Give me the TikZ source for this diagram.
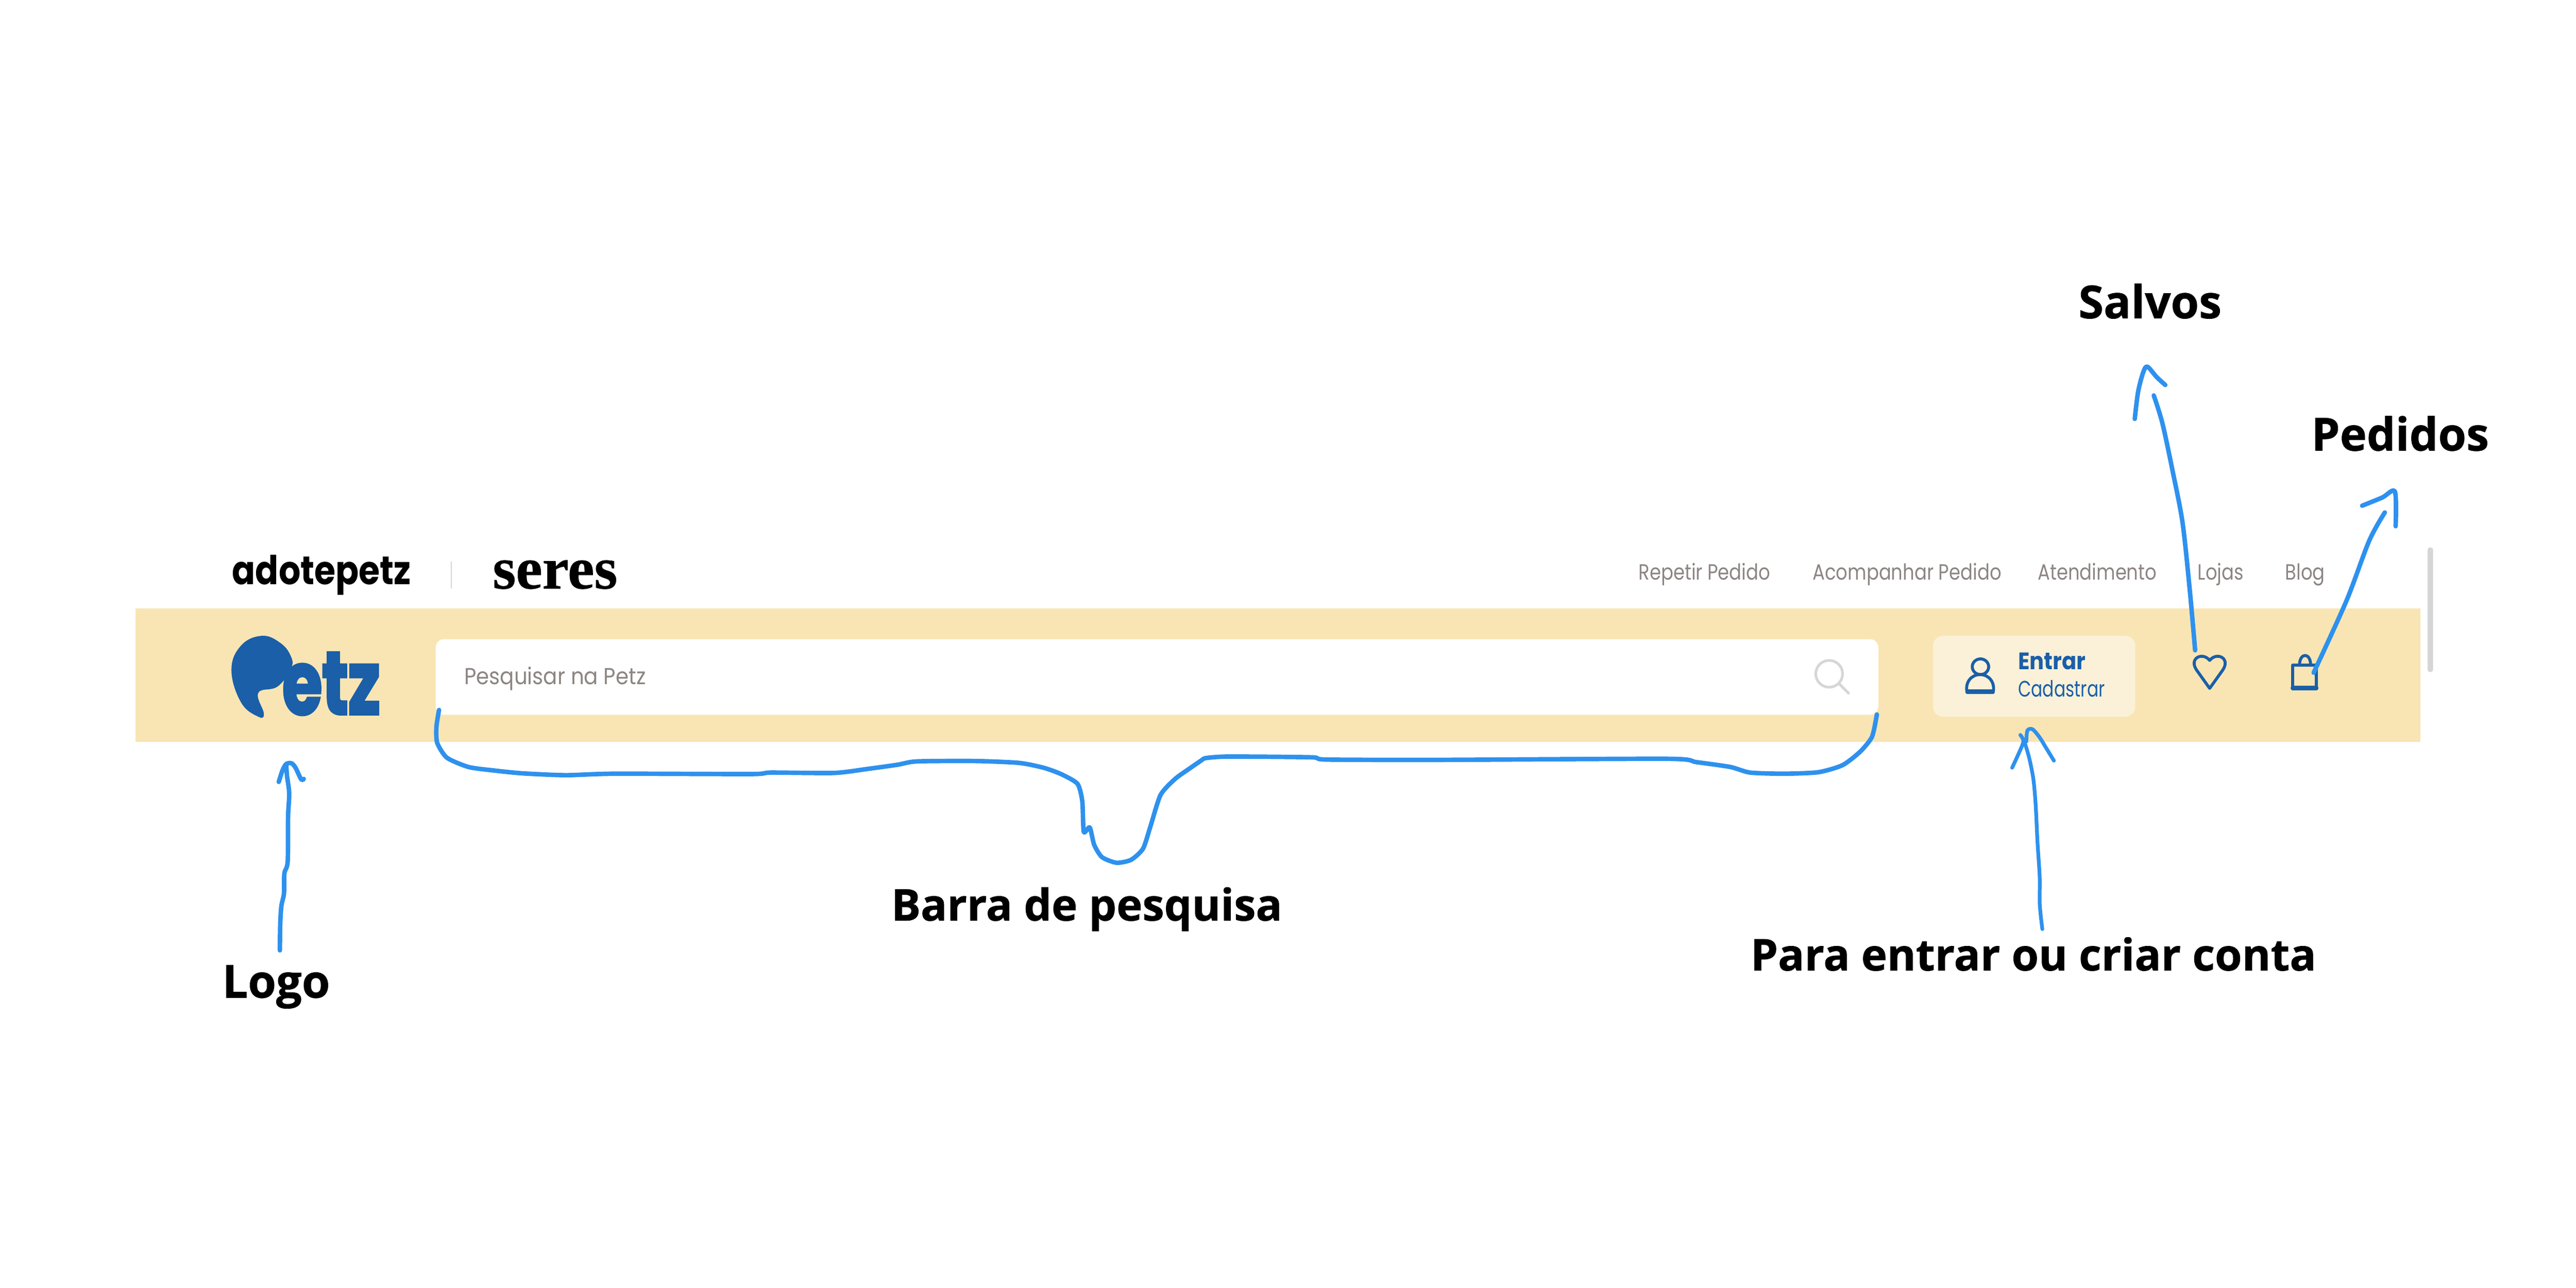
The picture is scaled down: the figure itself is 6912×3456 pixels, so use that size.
\documentclass[tikz,border=0pt]{standalone}
\usepackage{fontspec}
\setmainfont{Open Sans}
\newfontfamily\calloutfont[FakeBold=0.8]{Open Sans Bold}
\newfontfamily\headerfont[FakeStretch=0.9]{Poppins}
\newfontfamily\linkfont[FakeStretch=0.83]{Poppins}
\newfontfamily\signupfont[FakeStretch=0.76]{Poppins}
\newfontfamily\brandfont[FakeStretch=0.86]{Poppins Bold}
\newfontfamily\seresfont[FakeBold=0.6]{Liberation Serif Bold}
\newfontfamily\petzfont[FakeBold=2.5,FakeStretch=0.72]{Poppins Bold}
\definecolor{bandcream}{HTML}{F9E5B3}
\definecolor{logincream}{HTML}{FBF1D8}
\definecolor{petzblue}{HTML}{1A5FA8}
\definecolor{penblue}{HTML}{2E91EE}
\definecolor{linkgrey}{HTML}{8C8583}
\definecolor{softgrey}{HTML}{D6D6D6}
\tikzset{
  callout/.style={
    anchor=base, inner sep=0,
    font=\calloutfont\fontsize{12.2}{14}\selectfont,
  },
  long callout/.style={
    callout,
    font=\calloutfont\fontsize{11.75}{14}\selectfont,
  },
  top link/.style={
    anchor=base west, inner sep=0, text=linkgrey,
    font=\linkfont\fontsize{5.9}{7}\selectfont,
  },
  pen stroke/.style={
    draw=penblue, line width=1.2pt,
    line cap=round, line join=round,
  },
  ui icon/.style={
    draw=petzblue, line width=0.8pt,
    line cap=round, line join=round,
  },
}

\begin{document}
\begin{tikzpicture}[x=0.1pt, y=-0.1pt]
      \useasboundingbox (0,0) rectangle (6912,3456);

      \node[fill=bandcream, inner sep=0, minimum width=613.2pt, minimum height=35.8pt] (band) at (3429,1812) {};
      \node[fill=white, rounded corners=2.2pt, inner sep=0, minimum width=387.1pt, minimum height=20.3pt] (searchbar) at (3104.5,1816.5) {};
      \node[fill=logincream, rounded corners=2.6pt, inner sep=0, minimum width=54.2pt, minimum height=21.7pt] (loginbox) at (5458,1814.5) {};
      \node[fill=softgrey, rounded corners=0.7pt, inner sep=0, minimum width=1.5pt, minimum height=33.5pt] (scrollbar) at (6521,1636) {};
      \node[fill=softgrey, inner sep=0, minimum width=0.35pt, minimum height=7.2pt] (brandrule) at (1211,1543) {};

      \node[anchor=base west, inner sep=0, font=\brandfont\fontsize{10.7}{12}\selectfont] (adotepetz) at (621,1568) {adotepetz};
      \node[anchor=base west, inner sep=0, font=\seresfont\fontsize{16}{18}\selectfont] (seres) at (1320,1579) {seres};

      \node[top link] (repetir) at (4395,1556) {Repetir Pedido};
      \node[top link] (acompanhar) at (4862,1556) {Acompanhar Pedido};
      \node[top link] (atendimento) at (5466,1556) {Atendimento};
      \node[top link] (lojas) at (5895,1556) {Lojas};
      \node[top link] (blog) at (6130,1556) {Blog};

      % logo
      \fill[petzblue] plot[smooth cycle, tension=0.7] coordinates {(703,1706) (752,1725) (780,1760) (781,1793) (745,1842) (693,1859) (708,1915) (693,1923) (647,1885) (621,1798) (647,1732)};
      \node[anchor=base west, inner sep=0, text=petzblue, font=\petzfont\fontsize{24}{26}\selectfont] (petz) at (650,1917) {\raisebox{6.5pt}{\fontsize{16}{18}\selectfont P}\hspace{3.4pt}etz};

      \node[anchor=base west, inner sep=0, text=linkgrey, font=\headerfont\fontsize{6.2}{7}\selectfont] (placeholder) at (1244,1836) {Pesquisar na Petz};
      \draw[softgrey, line width=0.7pt, line cap=round] (4908,1808) circle (36);
      \draw[softgrey, line width=0.7pt, line cap=round] (4934,1834) -- (4960,1860);

      \node[anchor=base west, inner sep=0, text=petzblue, font=\headerfont\bfseries\fontsize{6.4}{7}\selectfont] (entrar) at (5413,1797) {Entrar};
      \node[anchor=base west, inner sep=0, text=petzblue, font=\signupfont\fontsize{6}{7}\selectfont] (cadastrar) at (5413,1870) {Cadastrar};

      % icons
      \draw[ui icon] (5314,1789) ellipse (22 and 21);
      \draw[ui icon] (5278,1858) .. controls (5272,1830) and (5290,1810) .. (5313,1810) .. controls (5336,1810) and (5354,1830) .. (5348,1858) -- cycle;
      \draw[ui icon, line width=1.2pt] (5280,1856) -- (5346,1856);
      \draw[ui icon] (5929,1847) -- (5894,1798) .. controls (5872,1766) and (5910,1748) .. (5929,1772) .. controls (5948,1748) and (5986,1766) .. (5964,1798) -- cycle;
      \draw[ui icon] (6152,1785) rectangle (6215,1848);
      \draw[ui icon, line width=1.2pt] (6152,1846) -- (6215,1846);
      \draw[ui icon] (6170,1785) .. controls (6170,1750) and (6200,1750) .. (6200,1785);

      % callouts
      \node[callout] (logolabel) at (741,2677) {Logo};
      \node[long callout] (barlabel) at (2916,2470) {Barra de pesquisa};
      \node[long callout] (loginlabel) at (5456,2604) {Para entrar ou criar conta};
      \node[callout] (savedlabel) at (5769,854) {Salvos};
      \node[callout] (orderslabel) at (6440,1209) {Pedidos};

      \coordinate (logo start) at (751,2550);
      \coordinate (logo tip) at (768,2050);
      \draw[pen stroke] plot[smooth, tension=0.5] coordinates {(logo start) (752,2478) (755,2431) (762,2397) (763,2344) (772,2311) (773,2191) (776,2129) (770,2081) (logo tip)};
      \draw[pen stroke] plot[smooth, tension=0.5] coordinates {(748,2098) (758,2067) (logo tip) (782,2048) (793,2060) (808,2091) (815,2090)};

      \coordinate (bar left) at (1178,1905);
      \coordinate (bar right) at (5036,1917);
      \draw[pen stroke] plot[smooth, tension=0.4] coordinates {(bar left) (1171,1950) (1173,1993) (1199,2033) (1257,2058) (1322,2067) (1401,2075) (1518,2080) (1649,2076) (2015,2077) (2068,2073) (2238,2074) (2329,2063) (2408,2052) (2460,2043) (2617,2042) (2734,2047) (2800,2060) (2847,2077) (2891,2103) (2904,2150) (2908,2232) (2924,2220) (2936,2267) (2957,2300) (2996,2315) (3035,2307) (3067,2277) (3087,2217) (3114,2133) (3153,2090) (3192,2062) (3224,2040) (3236,2034) (3297,2030) (3519,2032) (3558,2038) (3846,2039) (4473,2036) (4552,2045) (4643,2058) (4696,2073) (4787,2076) (4879,2072) (4944,2053) (4991,2017) (5023,1977) (bar right)};

      \coordinate (login start) at (5480,2493);
      \coordinate (login tip) at (5429,1986);
      \draw[pen stroke, line width=1pt] plot[smooth, tension=0.5] coordinates {(login start) (5473,2426) (5473,2355) (5467,2259) (5462,2158) (5456,2091) (5446,2039) (5435,2000) (login tip)};
      \draw[pen stroke, line width=1pt] plot[smooth, tension=0.5] coordinates {(5399,2060) (5424,2005) (login tip) (5421,1972)};
      \draw[pen stroke, line width=1pt] plot[smooth, tension=0.5] coordinates {(5437,1990) (5440,1960) (5454,1957) (5473,1979) (5489,2005) (5511,2041)};

      \coordinate (saved start) at (5890,1745);
      \coordinate (saved end) at (5779,1061);
      \draw[pen stroke] plot[smooth, tension=0.5] coordinates {(saved start) (5875,1577) (5856,1401) (5829,1261) (5802,1135) (saved end)};
      \draw[pen stroke] plot[smooth, tension=0.5] coordinates {(5728,1124) (5737,1051) (5751,998) (5762,984) (5787,1012) (5810,1033)};

      \coordinate (orders start) at (6208,1805);
      \coordinate (orders end) at (6399,1375);
      \draw[pen stroke] plot[smooth, tension=0.5] coordinates {(orders start) (6296,1612) (6357,1451) (orders end)};
      \draw[pen stroke] plot[smooth, tension=0.5] coordinates {(6338,1357) (6392,1335) (6426,1319) (6428,1412)};
\end{tikzpicture}
\end{document}
